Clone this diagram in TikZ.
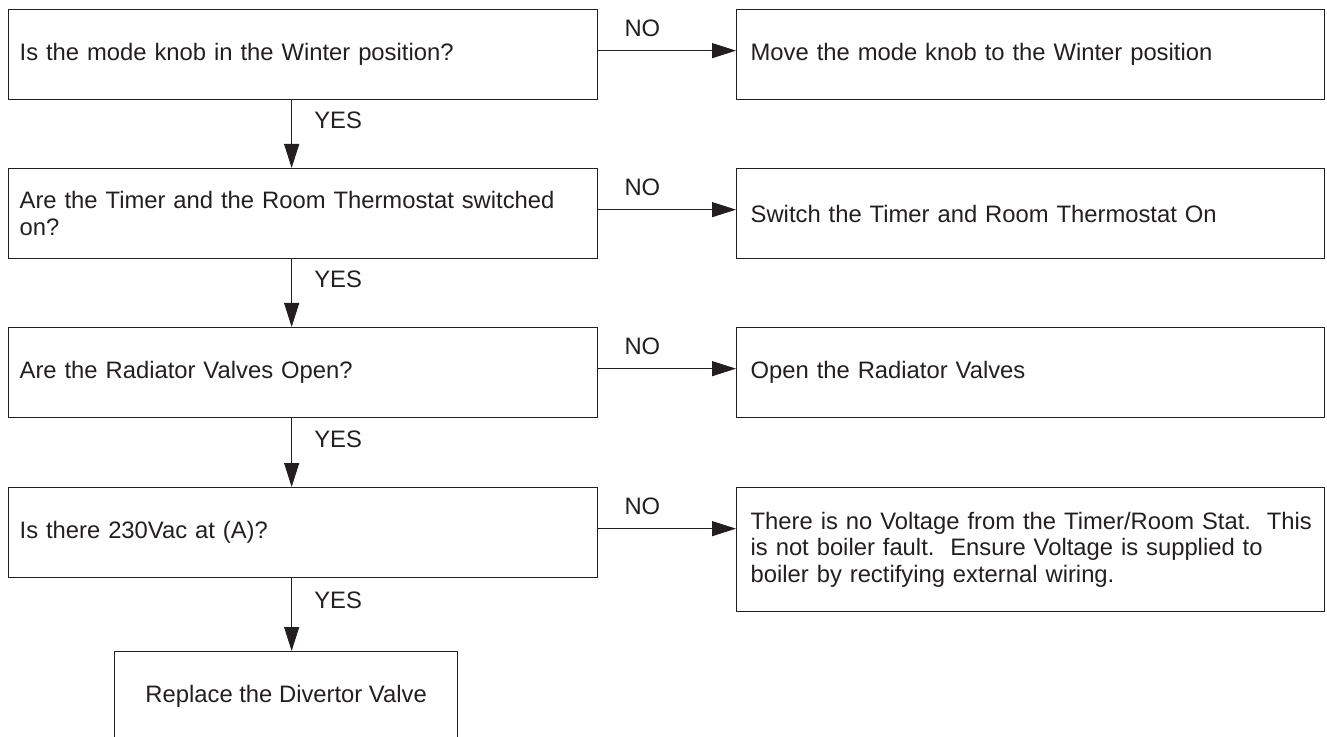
\documentclass[tikz,border=0pt]{standalone}
\usepackage{fontspec}
\setmainfont{Liberation Sans}
\usepackage{xcolor}
\usetikzlibrary{arrows.meta}
\definecolor{chartink}{RGB}{35,31,32}

\begin{document}
\begin{tikzpicture}[x=0.5pt, y=-0.5pt, >={Triangle[length=12pt, width=7.5pt]},
    font=\fontsize{11.9}{13.2}\selectfont,
    question/.style={draw=chartink, line width=0.65pt, text=chartink,
        anchor=north west, align=left, inner xsep=5.5pt,
        text width=283.5pt, minimum height=45pt},
    remedy/.style={question, inner xsep=7pt, text width=280pt},
    action/.style={draw=chartink, line width=0.65pt, text=chartink,
        anchor=north west, align=center,
        minimum width=171.5pt, minimum height=45pt},
    flow/.style={->, draw=chartink, line width=0.6pt},
    answer/.style={text=chartink, inner sep=0pt}]
        % cadre de la page
        \clip (0,0) rectangle (1327,737);

        % --- Questions (colonne gauche) ---
        \node[question] (q1) at (8,9) {Is the mode knob in the Winter position?};
        \node[question] (q2) at (8,168)
            {Are the Timer and the Room Thermostat switched\\on?};
        \node[question] (q3) at (8,327) {Are the Radiator Valves Open?};
        \node[question] (q4) at (8,487) {Is there 230Vac at (A)?};

        % --- Remedes (colonne droite) ---
        \node[remedy] (r1) at (736,9) {Move the mode knob to the Winter position};
        \node[remedy] (r2) at (736,168) {Switch the Timer and Room Thermostat On};
        \node[remedy] (r3) at (736,327) {Open the Radiator Valves};
        \node[remedy, minimum height=62pt] (r4) at (736,487)
            {\mbox{There is no Voltage from the Timer/Room Stat.\ \ This}\\
             is not boiler fault.\ \ Ensure Voltage is supplied to\\
             boiler by rectifying external wiring.};

        % Derniere etape
        \node[action] (fix) at (114,651) {Replace the Divertor Valve};

        % --- Fleches NO ---
        \foreach \i in {1,...,4} {
            \draw[flow] ([yshift=2pt]q\i.east) -- ([yshift=2pt]q\i.east -| r\i.west)
                node[answer, pos=0.32, above=6.5pt] {NO};
        }

        % --- Fleches YES ---
        \foreach \a/\b in {q1/q2, q2/q3, q3/q4, q4/fix} {
            \draw[flow] ([xshift=-5.75pt]\a.south) -- ([xshift=-5.75pt]\a.south |- \b.north)
                node[answer, pos=0.3, right=11pt] {YES};
        }
    \end{tikzpicture}
\end{document}
